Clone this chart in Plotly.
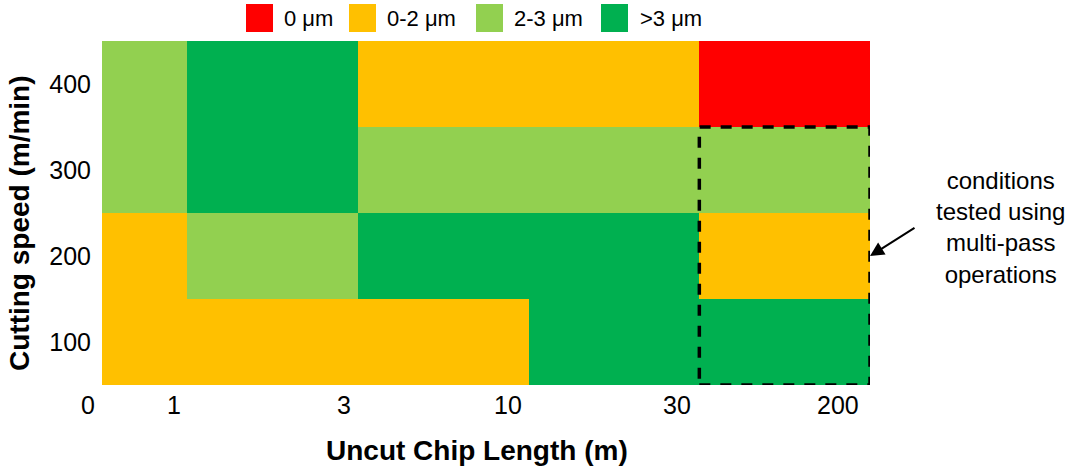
import plotly.graph_objects as go

# ---------------- data ----------------
x_tick_labels = ["0", "1", "3", "10", "30", "200"]
speeds = [100, 200, 300, 400]
# status codes: 0 -> "0 µm", 1 -> "0-2 µm", 2 -> "2-3 µm", 3 -> ">3 µm"
z_100 = [1, 1, 1, 3, 3]
z_200 = [1, 2, 3, 3, 1]
z_300 = [2, 3, 2, 2, 2]
z_400 = [2, 3, 1, 1, 0]
legend_labels = ["0 μm", "0-2 μm", "2-3 μm", ">3 μm"]
legend_colors = ["#FF0000", "#FFC000", "#92D050", "#00B050"]

# ---------------- layout helpers ----------------
W, H = 1070, 467
L, T = 102, 41
PW, PH = 768, 344
R = W - L - PW
B = H - T - PH

x_edges = [0, 0.5, 1.5, 2.5, 3.5, 4.5]
y_edges = [50, 150, 250, 350, 450]
x_range = [x_edges[0], x_edges[-1]]
x_tick_pos = [-0.082, 0.42, 1.418, 2.38, 3.37, 4.31]

def px_x(p):
    return (p - L) / PW

def px_y(p):
    return (T + PH - p) / PH

def data_to_paper_x(v):
    return (v - x_range[0]) / (x_range[1] - x_range[0])

n = 4
cs = []
for i, c in enumerate(legend_colors):
    cs.append([i / n, c])
    cs.append([(i + 1) / n, c])

FONT = "Liberation Sans, Arial, sans-serif"

fig = go.Figure()
fig.add_trace(go.Heatmap(
    x=x_edges, y=y_edges,
    z=[z_100, z_200, z_300, z_400],
    colorscale=cs, zmin=-0.5, zmax=3.5, showscale=False,
    hoverinfo="skip",
))

annotations = []
# x tick labels
for lab, pos in zip(x_tick_labels, x_tick_pos):
    annotations.append(dict(x=data_to_paper_x(pos), y=px_y(405), xref="paper", yref="paper",
                            text=lab, showarrow=False, xanchor="center", yanchor="middle",
                            font=dict(family=FONT, size=25, color="#000")))
# axis titles
annotations.append(dict(x=px_x(477), y=px_y(450), xref="paper", yref="paper",
                        text="<b>Uncut Chip Length (m)</b>", showarrow=False,
                        xanchor="center", yanchor="middle",
                        font=dict(family=FONT, size=28, color="#000")))
annotations.append(dict(x=px_x(19), y=px_y(223), xref="paper", yref="paper",
                        text="<b>Cutting speed (m/min)</b>", showarrow=False, textangle=-90,
                        xanchor="center", yanchor="middle",
                        font=dict(family=FONT, size=28, color="#000")))
# callout text
annotations.append(dict(x=px_x(1000), y=px_y(227.5), xref="paper", yref="paper",
                        text="conditions<br>tested using<br>multi-pass<br>operations",
                        showarrow=False, align="center", xanchor="center", yanchor="middle",
                        font=dict(family=FONT, size=24, color="#000")))
# arrow
annotations.append(dict(x=x_edges[5], y=speeds[1], xref="x", yref="y", text="",
                        showarrow=True, ax=46, ay=-29, arrowhead=2, arrowsize=1.4,
                        arrowwidth=2, arrowcolor="#000", standoff=0))

# legend (keys + labels)
leg_sq_x = [246, 349, 476, 601]
leg_txt_x = [282, 385, 512, 638]
shapes = []
for lab, col, sx, tx in zip(legend_labels, legend_colors, leg_sq_x, leg_txt_x):
    shapes.append(dict(type="rect", xref="paper", yref="paper",
                       x0=px_x(sx), x1=px_x(sx + 27), y0=px_y(32), y1=px_y(4),
                       fillcolor=col, line=dict(width=0)))
    annotations.append(dict(x=px_x(tx), y=px_y(18), xref="paper", yref="paper",
                            text=lab, showarrow=False, xanchor="left", yanchor="middle",
                            font=dict(family=FONT, size=22, color="#000")))

# dashed highlight box
shapes.append(dict(type="rect", xref="x", yref="y",
                   x0=x_edges[4], x1=x_edges[5], y0=y_edges[0], y1=y_edges[3],
                   line=dict(color="#000", width=3.5, dash="11px,10px"),
                   fillcolor="rgba(0,0,0,0)"))

fig.update_layout(
    width=W, height=H,
    margin=dict(l=L, r=R, t=T, b=B, autoexpand=False),
    paper_bgcolor="white", plot_bgcolor="white",
    showlegend=False,
    xaxis=dict(range=x_range, showticklabels=False, showgrid=False, zeroline=False,
               showline=False, ticks="", fixedrange=True),
    yaxis=dict(range=[50, 450], tickvals=speeds, ticktext=[str(s) for s in speeds],
               showgrid=False, zeroline=False, showline=False, ticks="",
               ticklabelstandoff=10,
               tickfont=dict(family=FONT, size=25, color="#000"), fixedrange=True),
    annotations=annotations,
    shapes=shapes,
)

fig.write_html("out.html", config={"displayModeBar": False},
               post_script="document.body.style.margin='0';document.body.style.overflow='hidden';")
